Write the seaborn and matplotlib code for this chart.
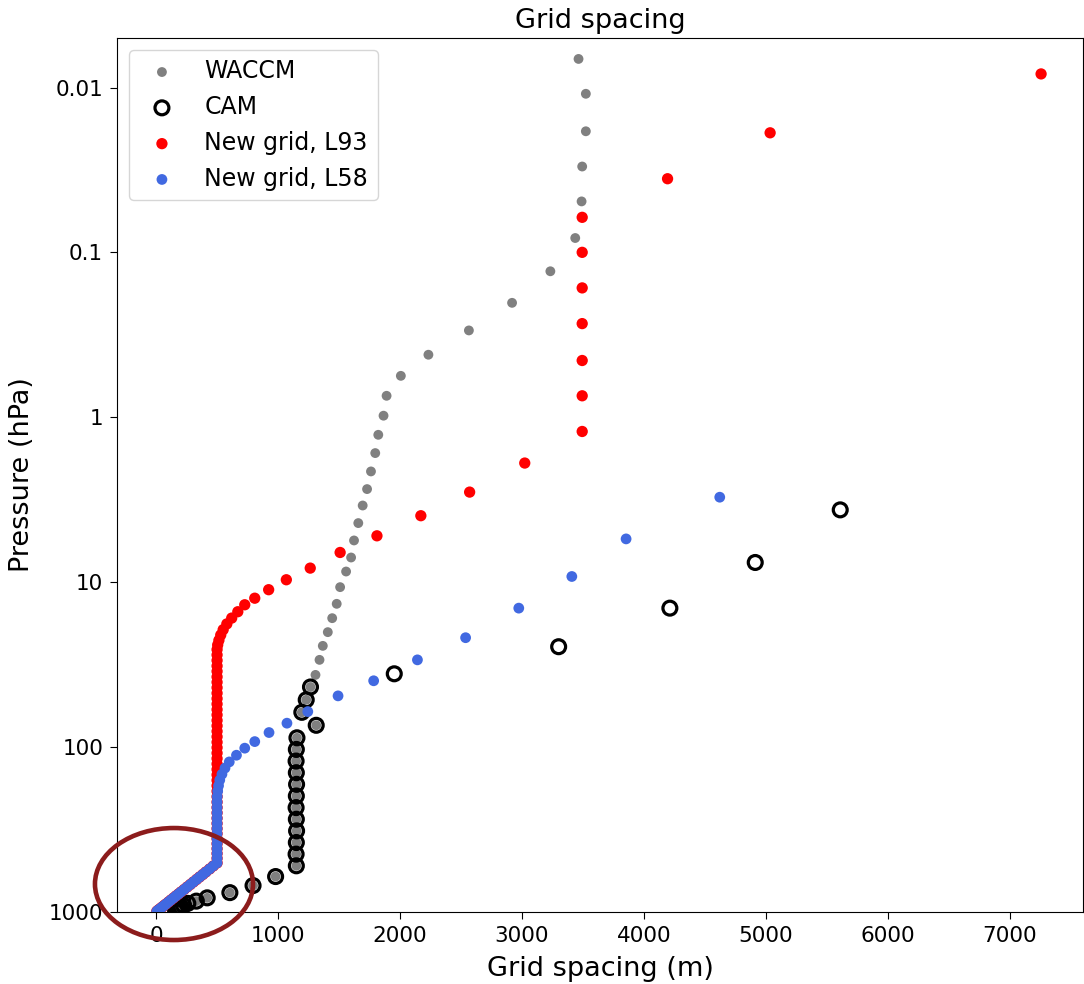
import matplotlib
matplotlib.use("Agg")
import matplotlib.pyplot as plt
from matplotlib.patches import Ellipse
from matplotlib.ticker import FixedLocator, FixedFormatter, NullLocator
import seaborn as sns

# ---------------- data ----------------
# WACCM: pressure (hPa) and grid spacing (m)
waccm_p = [0.0067, 0.0109, 0.0184, 0.0301, 0.0490, 0.0817, 0.130, 0.202, 0.297, 0.417,
           0.560, 0.740, 0.977, 1.276, 1.647, 2.128, 2.723, 3.425, 4.378, 5.58,
           7.08, 8.61, 10.71, 13.52, 16.52, 20.08, 24.32, 29.57, 36.48,
           43.19, 51.68, 61.52, 73.75, 87.82, 103.32, 121.55, 142.99, 168.23, 197.91,
           232.83, 273.91, 322.24, 379.1, 445.99, 524.69, 609.78, 691.39, 763.4, 820.86,
           859.53, 887.02, 912.64, 936.2, 957.49, 976.33, 992.56]
waccm_dz = [3464, 3524, 3524, 3494, 3489, 3437, 3233, 2919, 2565, 2233,
            2007, 1890, 1865, 1822, 1797, 1762, 1730, 1694, 1658, 1623,
            1599, 1558, 1509, 1481, 1444, 1408, 1367, 1340, 1307,
            1266, 1231, 1195, 1313, 1155, 1150, 1148, 1150, 1152, 1150,
            1148, 1150, 1152, 1150, 1148, 1150, 980, 795, 605, 419,
            330, 260, 225, 205, 190, 175, 160]

# CAM
cam_p = [3.64, 7.59, 14.36, 24.61, 35.92, 43.19, 51.68, 61.52, 73.75, 87.82,
         103.32, 121.55, 142.99, 168.23, 197.91, 232.83, 273.91, 322.24, 379.1, 445.99,
         524.69, 609.78, 691.39, 763.4, 820.86, 859.53, 887.02, 912.64, 936.2, 957.49,
         976.33, 992.56]
cam_dz = [5610, 4913, 4213, 3301, 1953, 1266, 1231, 1195, 1313, 1155,
          1150, 1148, 1150, 1152, 1150, 1148, 1150, 1152, 1150, 1148,
          1150, 980, 795, 605, 419, 330, 260, 225, 205, 190,
          175, 160]

# New grid, L93
l93_p = [0.00826, 0.0188, 0.0357, 0.0612, 0.0998, 0.164, 0.270, 0.452, 0.740, 1.218,
         1.893, 2.84, 3.95, 5.23, 6.60, 8.21, 9.66, 11.1, 12.5, 13.7,
         15.1, 16.5, 17.9, 19.4, 20.9, 22.5, 24.0, 25.6,
         27.6, 29.8, 32.2, 34.7, 37.5, 40.4, 43.6, 47.1, 50.8, 54.8,
         59.2, 63.8, 68.9, 74.3, 80.2, 86.5, 93.4, 100.7, 108.7, 117.3,
         126.5, 136.5, 147.3, 159.0, 171.5, 185.1, 199.7,
         215.5, 232.5, 250.5, 270.0, 290.5, 312.0, 335.0, 359.5, 385.5, 413.0,
         442.0, 472.5,
         504.3, 525.9, 548.5, 571.9, 592.3, 613.3, 635.0, 657.7, 681.0, 705.2,
         730.3, 756.2, 777.7, 799.7, 822.3, 845.7, 869.6, 894.3, 913.2, 932.6,
         952.3, 968.3, 981.9, 993.1]
l93_dz = [7257, 5035, 4194, 3494, 3494, 3494, 3494, 3494, 3494, 3494,
          3023, 2571, 2171, 1811, 1509, 1264, 1068, 923, 809, 727,
          670, 620, 580, 550, 530, 515, 505, 500,
          500, 500, 500, 500, 500, 500, 500, 500, 500, 500,
          500, 500, 500, 500, 500, 500, 500, 500, 500, 500,
          500, 500, 500, 500, 500, 500, 500,
          500, 500, 500, 500, 500, 500, 500, 500, 500, 500,
          500, 500,
          500, 469, 439, 408, 383, 357, 332, 306, 281, 255,
          230, 204, 184, 163, 143, 122, 102, 82, 66, 51,
          36, 23, 13, 5]

# New grid, L58
l58_p = [3.05, 5.46, 9.23, 14.36, 21.7, 29.57, 39.6, 48.9, 60.9, 71.6,
         81.6, 92.6, 101.5, 112.0, 123.0, 134.0, 146.0, 158.5, 171.5, 185.0,
         199.5,
         215.5, 232.5, 250.5, 270.0, 290.5, 312.0, 335.0, 359.5, 385.5, 413.0,
         442.0, 472.5,
         504.3, 525.9, 548.5, 571.9, 592.3, 613.3, 635.0, 657.7, 681.0, 705.2,
         730.3, 756.2, 777.7, 799.7, 822.3, 845.7, 869.6, 894.3, 913.2, 932.6,
         952.3, 968.3, 981.9, 993.1]
l58_dz = [4622, 3854, 3409, 2974, 2538, 2143, 1784, 1492, 1244, 1073,
          926, 809, 727, 659, 600, 565, 540, 522, 512, 505,
          501,
          500, 500, 500, 500, 500, 500, 500, 500, 500, 500,
          500, 500,
          500, 469, 439, 408, 383, 357, 332, 306, 281, 255,
          230, 204, 184, 163, 143, 122, 102, 82, 66, 51,
          36, 23, 13, 5]

y_ticks = [0.01, 0.1, 1, 10, 100, 1000]
y_ticklabels = ["0.01", "0.1", "1", "10", "100", "1000"]
x_ticks = [0, 1000, 2000, 3000, 4000, 5000, 6000, 7000]

# ---------------- figure ----------------
fig = plt.figure(figsize=(10.84, 9.84), dpi=100)
ax = fig.add_axes([0.108, 0.0732, 0.891, 0.8882])
ax.set_yscale("log")

sns.scatterplot(x=waccm_dz, y=waccm_p, ax=ax, color="grey", s=50,
                edgecolor="none", linewidth=0, label="WACCM", zorder=2)
sns.scatterplot(x=cam_dz, y=cam_p, ax=ax, color="black", facecolor="none",
                edgecolor="black", s=100, linewidth=2.3, label="CAM", zorder=3)
sns.scatterplot(x=l93_dz, y=l93_p, ax=ax, color="red", s=66,
                edgecolor="none", linewidth=0, label="New grid, L93", zorder=4)
sns.scatterplot(x=l58_dz, y=l58_p, ax=ax, color="royalblue", s=60,
                edgecolor="none", linewidth=0, label="New grid, L58", zorder=5)

ax.set_ylim(1000, 0.005)
ax.set_xlim(-320, 7600)
ax.yaxis.set_major_locator(FixedLocator(y_ticks))
ax.yaxis.set_major_formatter(FixedFormatter(y_ticklabels))
ax.yaxis.set_minor_locator(NullLocator())
ax.set_xticks(x_ticks)
ax.tick_params(axis="both", labelsize=15.5, length=5, pad=5)

ax.set_title("Grid spacing", fontsize=19.5, pad=7)
ax.set_xlabel("Grid spacing (m)", fontsize=19.5, labelpad=7)
ax.set_ylabel("Pressure (hPa)", fontsize=19.5, labelpad=10)

ax.legend(loc="upper left", fontsize=17, frameon=True)

# highlight annotation (figure-level ellipse)
ell = Ellipse((0.1605, 0.1016), 0.1458, 0.1138, transform=fig.transFigure,
              fill=False, edgecolor="#8c1c1c", linewidth=3.3, zorder=10)
fig.add_artist(ell)

fig.savefig("out.png", dpi=100)
